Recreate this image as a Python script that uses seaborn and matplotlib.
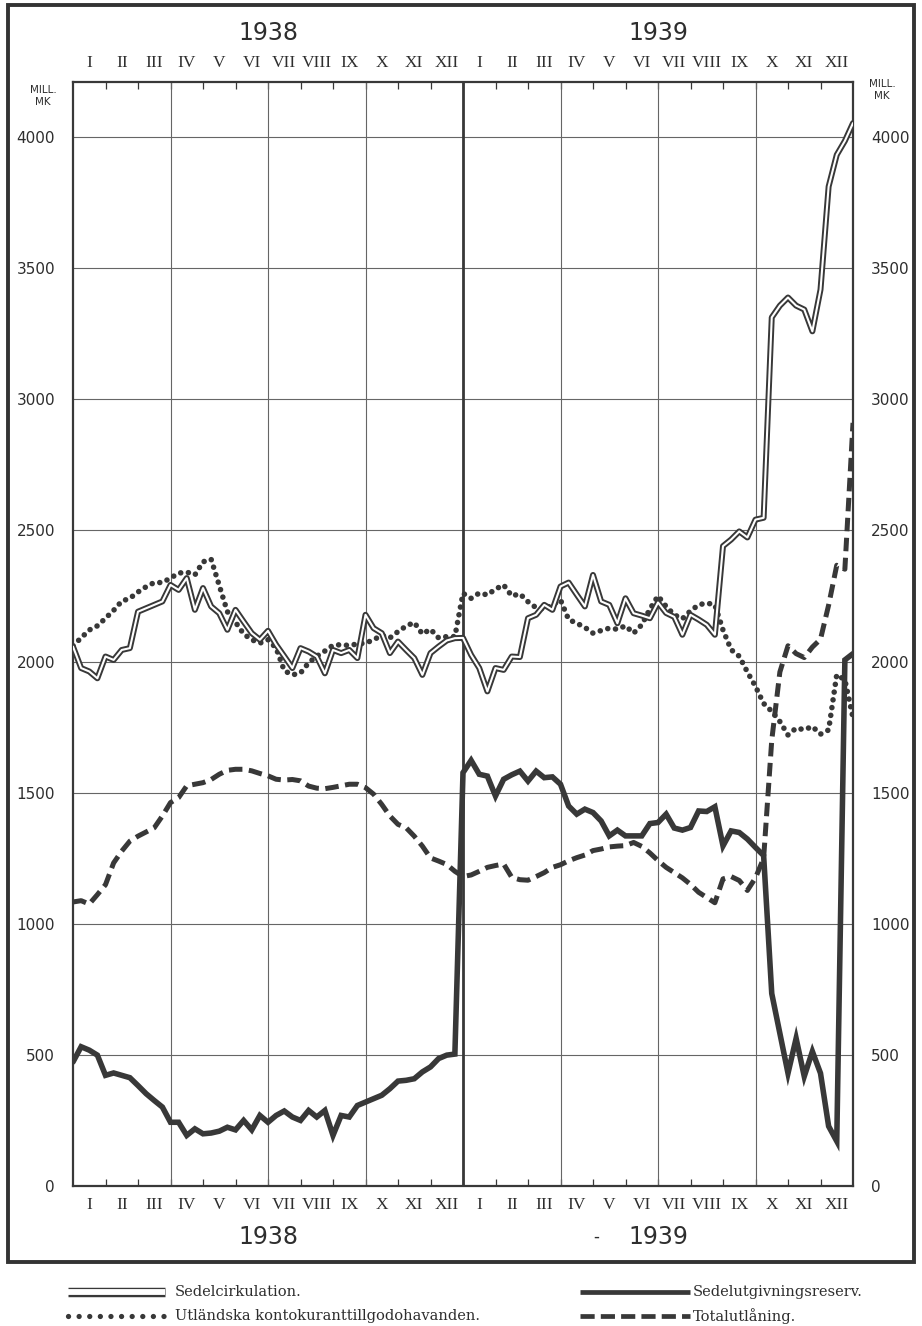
import numpy as np
import pandas as pd
import matplotlib
matplotlib.use("Agg")
import matplotlib.pyplot as plt
import seaborn as sns
from matplotlib.patches import Rectangle
from matplotlib.lines import Line2D

# ---------------- data (Mill. mk), 4 statements per month, Jan 1938 - Dec 1939 ----------------
months = np.arange(97) * 0.25  # time axis in months since 1 Jan 1938

sedelcirkulation = [
    2057, 1975, 1962, 1936, 2019, 2006, 2044, 2051, 2190, 2203, 2216, 2229, 2292, 2273, 2318, 2197,
    2280, 2210, 2184, 2121, 2197, 2152, 2108, 2083, 2117, 2064,
    2020, 1975, 2051, 2038, 2019, 1955, 2044, 2032, 2044, 2013, 2178, 2127, 2108, 2032, 2076, 2044,
    2013, 1949, 2032, 2057, 2080, 2089,
    2090,
    2025, 1975, 1886, 1975, 1968, 2019, 2017, 2165, 2178, 2216, 2197, 2286, 2301, 2255, 2210, 2330,
    2229, 2216, 2146, 2241, 2184, 2175, 2165, 2225, 2185,
    2170, 2102, 2178, 2160, 2140, 2102, 2440, 2465, 2496, 2473, 2541, 2548, 3312, 3357, 3388, 3357,
    3342, 3259, 3418, 3811, 3932, 3985, 4053,
]

utlandska = [
    2060, 2090, 2120, 2136, 2165, 2195, 2230, 2241, 2265, 2285, 2301, 2301, 2318, 2337, 2341, 2330,
    2380, 2390, 2290, 2190, 2150, 2105, 2083, 2070, 2083, 2051,
    1965, 1949, 1956, 1995, 2020, 2040, 2062, 2064, 2061, 2067, 2070, 2083, 2100, 2090, 2114, 2135,
    2149, 2105, 2123, 2090, 2095, 2095, 2260,
    2241, 2261, 2254, 2276, 2292, 2250, 2258, 2228, 2205, 2200, 2216, 2235, 2160, 2146, 2130, 2108,
    2118, 2127, 2123, 2136, 2108, 2140, 2200, 2250,
    2210, 2178, 2163, 2193, 2216, 2223, 2216, 2120, 2045, 2020, 1960, 1905, 1840, 1810, 1771, 1720,
    1746, 1740, 1752, 1723, 1739, 1950, 1930, 1785,
]

sedelutgivningsreserv = [
    473, 531, 518, 499, 422, 431, 422, 413, 383, 352, 326, 301, 243, 243, 193, 218,
    199, 202, 209, 224, 214, 250, 214, 269, 243, 269, 286, 263, 250, 288, 263, 288,
    193, 269, 263, 307, 320, 333, 346, 371, 400, 403, 409, 435, 454, 486, 499, 503,
    1576, 1623, 1570, 1563, 1487, 1551, 1568, 1582, 1544, 1582, 1557, 1560, 1532, 1449, 1418, 1437,
    1424, 1392, 1335, 1357, 1335, 1335, 1335, 1382, 1386, 1418, 1365, 1357, 1367, 1430, 1428, 1446,
    1297, 1354, 1348, 1323, 1291, 1260, 734, 582, 430, 563, 418, 513, 430, 228, 171, 2006, 2030,
]

totalutlaning = [
    1083, 1088, 1075, 1111, 1149, 1232, 1277, 1315, 1334, 1350, 1366, 1411, 1462, 1481, 1526, 1532,
    1538, 1550, 1570, 1585, 1589, 1589, 1583, 1573, 1564,
    1551, 1548, 1550, 1545, 1525, 1517, 1515, 1520, 1526, 1532, 1532, 1519, 1494, 1455, 1411, 1379,
    1366, 1334, 1296, 1251, 1239, 1226, 1200,
    1180, 1186, 1200, 1215, 1222, 1228, 1177, 1168, 1166, 1180, 1195, 1215, 1225, 1240, 1252, 1262,
    1279, 1285, 1293, 1296, 1298, 1310, 1295, 1270, 1241, 1215, 1195, 1175, 1150, 1120, 1100, 1080,
    1171, 1180, 1165, 1127, 1175, 1250,
    1700, 1960, 2060, 2030, 2015, 2055, 2085, 2215, 2367, 2352, 2910,
]

month_labels = ["I", "II", "III", "IV", "V", "VI", "VII", "VIII", "IX", "X", "XI", "XII"]
year_labels = ["1938", "1939"]
y_ticks = [0, 500, 1000, 1500, 2000, 2500, 3000, 3500, 4000]
legend_labels = ["Sedelcirkulation.", "Utländska kontokuranttillgodohavanden.",
                 "Sedelutgivningsreserv.", "Totalutlåning."]

df = pd.DataFrame({
    "month": months,
    "Sedelcirkulation": sedelcirkulation,
    "Utlandska": utlandska,
    "Reserv": sedelutgivningsreserv,
    "Totalutlaning": totalutlaning,
})

# ---------------- style ----------------
sns.set_theme(style="white")
plt.rcParams["font.family"] = ["DejaVu Sans"]
ink = "#383838"
txt = "#2e2e2e"
W, H = 922, 1326

fig = plt.figure(figsize=(W / 100, H / 100), dpi=100)
fig.patch.set_facecolor("white")
ax = fig.add_axes([73 / W, 1 - 1186 / H, 780 / W, 1104 / H])
ax.set_facecolor("white")

# grid
for v in y_ticks:
    ax.axhline(v, color="#666666", lw=0.8, zorder=1)
for m in [3, 6, 9, 15, 18, 21]:
    ax.axvline(m, color="#666666", lw=0.8, zorder=1)
ax.axvline(12, color=ink, lw=2.0, zorder=1)

# series
sns.lineplot(data=df, x="month", y="Sedelcirkulation", ax=ax, color=ink, lw=4.3,
             legend=False, zorder=4)
sns.lineplot(data=df, x="month", y="Sedelcirkulation", ax=ax, color="white", lw=1.5,
             legend=False, zorder=5)
sns.lineplot(data=df, x="month", y="Utlandska", ax=ax, color=ink, lw=4.0,
             linestyle=(0, (0.01, 1.4)), dash_capstyle="round", legend=False, zorder=3)
sns.lineplot(data=df, x="month", y="Reserv", ax=ax, color=ink, lw=4.0,
             solid_joinstyle="miter", legend=False, zorder=3)
sns.lineplot(data=df, x="month", y="Totalutlaning", ax=ax, color=ink, lw=3.6,
             linestyle=(0, (2.7, 1.3)), legend=False, zorder=3)

ax.set_xlim(0, 24)
ax.set_ylim(0, 1104 / 0.26225)
ax.set_xlabel("")
ax.set_ylabel("")

# ticks
ax.set_xticks([])
ax.set_xticks(np.arange(1, 24), minor=True)
ax.tick_params(axis="x", which="minor", direction="in", length=5, width=0.9, color=ink,
               top=True, bottom=True, labelbottom=False)
ax.set_yticks(y_ticks)
ax.set_yticklabels([str(v) for v in y_ticks])
ax.tick_params(axis="y", which="major", left=False, right=False, labelleft=True,
               labelright=True, pad=7, labelsize=11, labelcolor=txt)

for s in ax.spines.values():
    s.set_color(ink)
    s.set_linewidth(1.6)

# month numerals
xt = ax.get_xaxis_transform()
for i, lab in enumerate(month_labels * 2):
    for yy in (1.0175, -0.0172):
        ax.text(i + 0.5, yy, lab, transform=xt, ha="center", va="center",
                family="Liberation Serif", fontsize=12.5, color=txt)

# year labels
for j, y in enumerate(year_labels):
    ax.text(6 + 12 * j, 1.044, y, transform=xt, ha="center", va="center",
            fontsize=17, color=txt)
    ax.text(6 + 12 * j, -0.046, y, transform=xt, ha="center", va="center",
            fontsize=17, color=txt)
ax.text(16.1, -0.046, "-", transform=xt, ha="center", va="center", fontsize=12, color=txt)

# unit labels
fig.text(43 / W, 1 - 96 / H, "MILL.\nMK", ha="center", va="center", fontsize=7.5,
         color=txt, linespacing=1.3)
fig.text(882 / W, 1 - 90 / H, "MILL.\nMK", ha="center", va="center", fontsize=7.5,
         color=txt, linespacing=1.3)

# outer frame
fig.add_artist(Rectangle((8 / W, 1 - 1262 / H), 906 / W, 1257 / H, transform=fig.transFigure,
                         fill=False, lw=2.8, ec="#333333"))

# legend (manual, below frame)
def fy(py):
    return 1 - py / H

y1, y2 = 1292, 1316
fig.add_artist(Line2D([68 / W, 165 / W], [fy(y1), fy(y1)], transform=fig.transFigure,
                      color=ink, lw=6.8, solid_capstyle="butt"))
fig.add_artist(Line2D([68 / W, 165 / W], [fy(y1), fy(y1)], transform=fig.transFigure,
                      color="white", lw=4.2, solid_capstyle="butt"))
fig.add_artist(Line2D([68 / W, 165 / W], [fy(y2), fy(y2)], transform=fig.transFigure,
                      color=ink, lw=3.8, linestyle=(0, (0.01, 2.0)), dash_capstyle="round"))
fig.add_artist(Line2D([580 / W, 690 / W], [fy(y1), fy(y1)], transform=fig.transFigure,
                      color=ink, lw=3.4, solid_capstyle="butt"))
fig.add_artist(Line2D([580 / W, 690 / W], [fy(y2), fy(y2)], transform=fig.transFigure,
                      color=ink, lw=3.4, linestyle=(0, (3.0, 1.3))))
for (px, py), lab in zip([(175, y1), (175, y2), (693, y1), (693, y2)], legend_labels):
    fig.text(px / W, fy(py), lab, ha="left", va="center", family="DejaVu Serif",
             fontsize=10.5, color=txt)

fig.savefig("out.png", dpi=100, facecolor="white")
